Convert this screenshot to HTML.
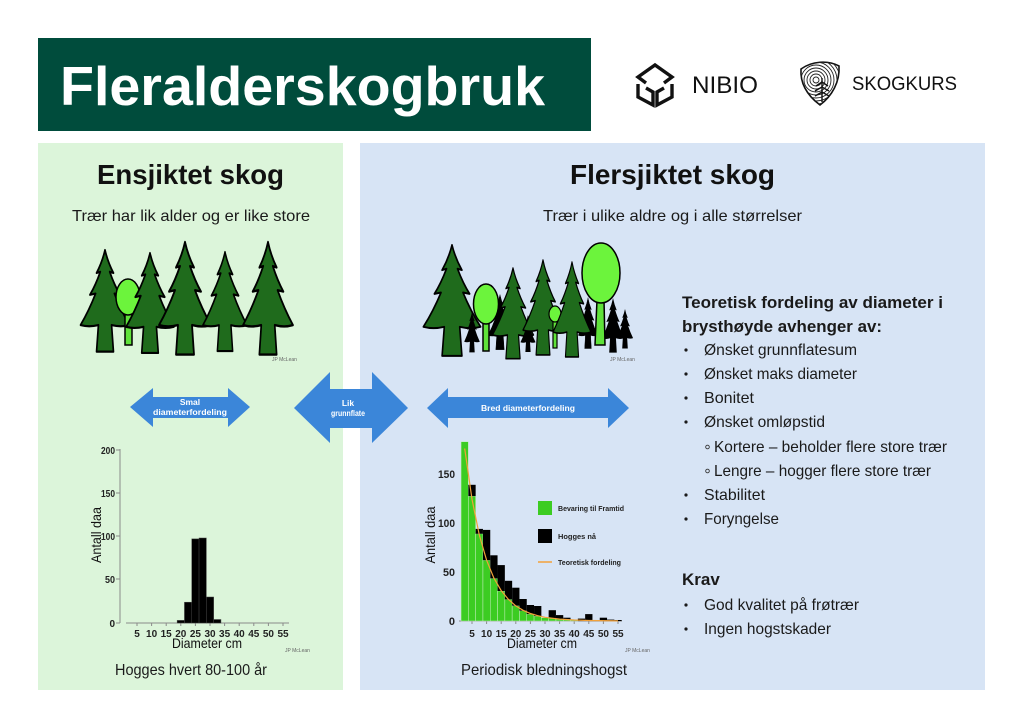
<!DOCTYPE html>
<html><head><meta charset="utf-8"><style>
html,body{margin:0;padding:0;background:#fff;width:1024px;height:727px;overflow:hidden}
svg{display:block}
</style></head><body>
<svg width="1024" height="727" viewBox="0 0 1024 727" font-family="'Liberation Sans', Arial, sans-serif">
<defs>
<path id="conifer" d="M0,0 Q3,10 9,19 L5,18 Q10,29 16,37 L10,36 Q17,50 26,62 Q17,64 7,62 L9,84 L-9,84 L-7,62 Q-17,64 -26,62 Q-17,50 -10,36 L-16,37 Q-10,29 -5,18 L-9,19 Q-3,10 0,0 Z"/>
<clipPath id="shieldclip"><path d="M801,69 C812,61 828,60 839,66 C840,82 832,96 820,105 C808,96 800,84 801,69 Z"/></clipPath>
</defs>

<!-- Title box -->
<rect x="38" y="38" width="553" height="93" fill="#004c3c"/>
<text x="60" y="105" font-size="55" font-weight="bold" fill="#fff" textLength="485" lengthAdjust="spacingAndGlyphs">Fleralderskogbruk</text>

<!-- NIBIO logo -->
<g fill="none" stroke="#111" stroke-width="3.4" stroke-linejoin="miter">
<path d="M646,83 L638,77 L655,65 L672,77 L664,83"/>
<path d="M638,84 L638,97 L653,105 L653,92 L646,88"/>
<path d="M672,84 L672,97 L657,105 L657,92 L664,88"/>
</g>
<text x="692" y="93" font-size="24" fill="#111" textLength="66" lengthAdjust="spacingAndGlyphs">NIBIO</text>

<!-- SKOGKURS logo -->
<path d="M801,69 C812,61 828,60 839,66 C840,82 832,96 820,105 C808,96 800,84 801,69 Z" fill="#fff" stroke="#111" stroke-width="1.6"/>
<g clip-path="url(#shieldclip)" fill="none" stroke="#222" stroke-width="0.9">
<circle cx="816" cy="80" r="3"/><circle cx="816" cy="80" r="6"/><circle cx="816" cy="80" r="9"/>
<circle cx="816" cy="80" r="12"/><circle cx="816" cy="80" r="15"/><circle cx="816" cy="80" r="18"/>
<circle cx="816" cy="80" r="21"/><circle cx="816" cy="80" r="24"/>
</g>
<g stroke="#111" stroke-width="1.4" fill="none">
<line x1="822" y1="78" x2="822" y2="102"/>
<path d="M816,86 L822,82 L828,86 M815,91 L822,87 L829,91 M815,96 L822,92 L829,96"/>
</g>
<text x="852" y="90" font-size="19" fill="#111" textLength="105" lengthAdjust="spacingAndGlyphs">SKOGKURS</text>

<!-- Panels -->
<rect x="38" y="143" width="305" height="547" fill="#dcf5da"/>
<rect x="360" y="143" width="625" height="547" fill="#d7e4f5"/>

<!-- Headings -->
<text x="97" y="184" font-size="28" font-weight="bold" fill="#111" textLength="187" lengthAdjust="spacingAndGlyphs">Ensjiktet skog</text>
<text x="570" y="184" font-size="28" font-weight="bold" fill="#111" textLength="205" lengthAdjust="spacingAndGlyphs">Flersjiktet skog</text>
<text x="72" y="221" font-size="16" fill="#1a1a1a" textLength="238" lengthAdjust="spacingAndGlyphs">Trær har lik alder og er like store</text>
<text x="543" y="221" font-size="16" fill="#1a1a1a" textLength="259" lengthAdjust="spacingAndGlyphs">Trær i ulike aldre og i alle størrelser</text>

<!-- Left trees -->
<g fill="#1f6b1c" stroke="#000" stroke-width="1.8" stroke-linejoin="round">
<use href="#conifer" transform="translate(105,250) scale(0.94,1.21)"/>
</g>
<g stroke="#000" stroke-width="1.5">
<rect x="125" y="310" width="7" height="35" fill="#5fe23a"/>
<ellipse cx="128" cy="297" rx="12" ry="18" fill="#6cf43c"/>
</g>
<g fill="#1f6b1c" stroke="#000" stroke-width="1.8" stroke-linejoin="round">
<use href="#conifer" transform="translate(150,253) scale(0.92,1.19)"/>
<use href="#conifer" transform="translate(185,242) scale(1.0,1.34)"/>
<use href="#conifer" transform="translate(225,252) scale(0.85,1.18)"/>
<use href="#conifer" transform="translate(268,242) scale(0.96,1.34)"/>
</g>
<text x="272" y="361" font-size="5" fill="#666">JP McLean</text>

<!-- Right trees -->
<g fill="#000" stroke="#000" stroke-width="1">
<use href="#conifer" transform="translate(500,295) scale(0.46,0.65)"/>
<use href="#conifer" transform="translate(588,298) scale(0.37,0.6)"/>
</g>
<g fill="#1f6b1c" stroke="#000" stroke-width="1.5" stroke-linejoin="round">
<use href="#conifer" transform="translate(452,245) scale(1.1,1.32)"/>
</g>
<g fill="#000"><use href="#conifer" transform="translate(472,312) scale(0.3,0.48)"/></g>
<g stroke="#000" stroke-width="1.5">
<rect x="483" y="318" width="6" height="33" fill="#5fe23a"/>
<ellipse cx="486" cy="304" rx="12.5" ry="20" fill="#6cf43c"/>
</g>
<g fill="#1f6b1c" stroke="#000" stroke-width="1.5" stroke-linejoin="round">
<use href="#conifer" transform="translate(513,268) scale(0.79,1.08)"/>
</g>
<g fill="#000"><use href="#conifer" transform="translate(528,315) scale(0.29,0.44)"/></g>
<g fill="#1f6b1c" stroke="#000" stroke-width="1.5" stroke-linejoin="round">
<use href="#conifer" transform="translate(543,260) scale(0.77,1.13)"/>
</g>
<g stroke="#000" stroke-width="1.2">
<rect x="553" y="318" width="4" height="30" fill="#5fe23a"/>
<ellipse cx="555" cy="314" rx="6" ry="8" fill="#6cf43c"/>
</g>
<g fill="#1f6b1c" stroke="#000" stroke-width="1.5" stroke-linejoin="round">
<use href="#conifer" transform="translate(572,262) scale(0.73,1.13)"/>
</g>
<g fill="#000">
<use href="#conifer" transform="translate(613,298) scale(0.42,0.65)"/>
<use href="#conifer" transform="translate(625,309) scale(0.31,0.47)"/>
</g>
<g stroke="#000" stroke-width="1.5">
<path d="M597,300 L604,300 L605,345 L595,345 Z" fill="#5fe23a"/>
<ellipse cx="601" cy="273" rx="19" ry="30" fill="#6cf43c"/>
</g>
<text x="610" y="361" font-size="5" fill="#666">JP McLean</text>

<!-- Arrows -->
<g fill="#3b86d9">
<polygon points="130,407 153,388 153,397 228,397 228,388 250,407 228,427 228,418 153,418 153,427"/>
<polygon points="294,408 330,372 330,389 372,389 372,372 408,408 372,443 372,428 330,428 330,443"/>
<polygon points="427,408 448,388 448,397 608,397 608,388 629,408 608,428 608,418 448,418 448,428"/>
</g>
<g fill="#fff" font-weight="bold" text-anchor="middle">
<text x="190" y="405" font-size="8.5">Smal</text>
<text x="190" y="415" font-size="8.5" textLength="74" lengthAdjust="spacingAndGlyphs">diameterfordeling</text>
<text x="348" y="406" font-size="8.5">Lik</text>
<text x="348" y="416" font-size="8.5" textLength="34" lengthAdjust="spacingAndGlyphs">grunnflate</text>
<text x="528" y="411" font-size="8.5" textLength="94" lengthAdjust="spacingAndGlyphs">Bred diameterfordeling</text>
</g>

<!-- Left chart -->
<g stroke="#8a8a8a" stroke-width="1">
<line x1="120" y1="449" x2="120" y2="623"/>
<line x1="116" y1="450" x2="120" y2="450"/>
<line x1="116" y1="493" x2="120" y2="493"/>
<line x1="116" y1="536" x2="120" y2="536"/>
<line x1="116" y1="579" x2="120" y2="579"/>
<line x1="116" y1="623" x2="120" y2="623"/>
<line x1="126" y1="623" x2="289" y2="623"/>
<line x1="137" y1="623" x2="137" y2="626"/><line x1="151.6" y1="623" x2="151.6" y2="626"/>
<line x1="166.2" y1="623" x2="166.2" y2="626"/><line x1="180.8" y1="623" x2="180.8" y2="626"/>
<line x1="195.4" y1="623" x2="195.4" y2="626"/><line x1="210" y1="623" x2="210" y2="626"/>
<line x1="224.6" y1="623" x2="224.6" y2="626"/><line x1="239.2" y1="623" x2="239.2" y2="626"/>
<line x1="253.8" y1="623" x2="253.8" y2="626"/><line x1="268.4" y1="623" x2="268.4" y2="626"/>
<line x1="283" y1="623" x2="283" y2="626"/>
</g>
<g font-size="10" font-weight="bold" fill="#222" text-anchor="end">
<text x="115" y="454" textLength="14" lengthAdjust="spacingAndGlyphs">200</text>
<text x="115" y="497" textLength="14" lengthAdjust="spacingAndGlyphs">150</text>
<text x="115" y="540" textLength="14" lengthAdjust="spacingAndGlyphs">100</text>
<text x="115" y="583" textLength="10" lengthAdjust="spacingAndGlyphs">50</text>
<text x="115" y="627">0</text>
</g>
<g font-size="10" font-weight="bold" fill="#222" text-anchor="middle">
<text x="137" y="637">5</text><text x="151.6" y="637">10</text><text x="166.2" y="637">15</text>
<text x="180.8" y="637">20</text><text x="195.4" y="637">25</text><text x="210" y="637">30</text>
<text x="224.6" y="637">35</text><text x="239.2" y="637">40</text><text x="253.8" y="637">45</text>
<text x="268.4" y="637">50</text><text x="283" y="637">55</text>
</g>
<g fill="#000" stroke="#444" stroke-width="0.5">
<rect x="177.15" y="620.4" width="7.3" height="2.6"/>
<rect x="184.45" y="602.2" width="7.3" height="20.8"/>
<rect x="191.75" y="538.9" width="7.3" height="84.1"/>
<rect x="199.05" y="538.0" width="7.3" height="85.0"/>
<rect x="206.35" y="597.0" width="7.3" height="26.0"/>
<rect x="213.65" y="619.5" width="7.3" height="3.5"/>
</g>
<text transform="translate(101,535) rotate(-90)" font-size="14" fill="#111" text-anchor="middle" textLength="56" lengthAdjust="spacingAndGlyphs">Antall daa</text>
<text x="172" y="648" font-size="14" fill="#111" textLength="70" lengthAdjust="spacingAndGlyphs">Diameter cm</text>
<text x="285" y="652" font-size="5" fill="#666">JP McLean</text>

<!-- Right chart -->
<g stroke="#8a8a8a" stroke-width="1">
<line x1="459" y1="621" x2="622" y2="621"/>
<line x1="472" y1="621" x2="472" y2="624"/><line x1="486.6" y1="621" x2="486.6" y2="624"/>
<line x1="501.2" y1="621" x2="501.2" y2="624"/><line x1="515.8" y1="621" x2="515.8" y2="624"/>
<line x1="530.4" y1="621" x2="530.4" y2="624"/><line x1="545" y1="621" x2="545" y2="624"/>
<line x1="559.6" y1="621" x2="559.6" y2="624"/><line x1="574.2" y1="621" x2="574.2" y2="624"/>
<line x1="588.8" y1="621" x2="588.8" y2="624"/><line x1="603.4" y1="621" x2="603.4" y2="624"/>
<line x1="618" y1="621" x2="618" y2="624"/>
</g>
<g fill="#3ccc22" stroke="#c6eec0" stroke-width="0.5">
<rect x="461.05" y="441.7" width="7.3" height="179.3"/>
<rect x="468.35" y="496.1" width="7.3" height="124.9"/>
<rect x="475.65" y="533.8" width="7.3" height="87.2"/>
<rect x="482.95" y="560.2" width="7.3" height="60.8"/>
<rect x="490.25" y="578.4" width="7.3" height="42.6"/>
<rect x="497.55" y="591.0" width="7.3" height="30.0"/>
<rect x="504.85" y="599.4" width="7.3" height="21.6"/>
<rect x="512.15" y="605.7" width="7.3" height="15.3"/>
<rect x="519.45" y="610.7" width="7.3" height="10.3"/>
<rect x="526.75" y="614.1" width="7.3" height="6.9"/>
<rect x="534.05" y="616.1" width="7.3" height="4.9"/>
<rect x="541.35" y="617.7" width="7.3" height="3.3"/>
<rect x="548.65" y="618.4" width="7.3" height="2.6"/>
<rect x="555.95" y="619.0" width="7.3" height="2.0"/>
<rect x="563.25" y="619.6" width="7.3" height="1.4"/>
<rect x="570.55" y="620.0" width="7.3" height="1.0"/>
</g>
<g fill="#000">
<rect x="468.35" y="484.8" width="7.3" height="11.3"/>
<rect x="475.65" y="528.9" width="7.3" height="4.9"/>
<rect x="482.95" y="529.9" width="7.3" height="30.3"/>
<rect x="490.25" y="555.3" width="7.3" height="23.1"/>
<rect x="497.55" y="565.1" width="7.3" height="25.9"/>
<rect x="504.85" y="580.8" width="7.3" height="18.6"/>
<rect x="512.15" y="587.7" width="7.3" height="18.0"/>
<rect x="519.45" y="599.0" width="7.3" height="11.7"/>
<rect x="526.75" y="605.0" width="7.3" height="9.1"/>
<rect x="534.05" y="606.0" width="7.3" height="10.1"/>
<rect x="548.65" y="610.2" width="7.3" height="8.2"/>
<rect x="555.95" y="615.1" width="7.3" height="3.9"/>
<rect x="563.25" y="617.7" width="7.3" height="1.9"/>
<rect x="577.85" y="618.6" width="7.3" height="2.4"/>
<rect x="585.15" y="614.1" width="7.3" height="6.9"/>
<rect x="599.75" y="617.7" width="7.3" height="3.3"/>
<rect x="607.05" y="619.6" width="7.3" height="1.4"/>
<rect x="614.35" y="620.0" width="7.3" height="1.0"/>
</g>
<polyline fill="none" stroke="#f2a13a" stroke-width="1.2" points="464.7,448.5 472,499.2 479.3,535 486.6,560.2 493.9,578.1 501.2,590.6 508.5,599.5 515.8,605.9 523.1,610.3 530.4,613.5 537.7,615.7 545,617.3 559.6,619.1 574.2,620 588.8,620.5 618,620.9"/>
<g font-size="11" font-weight="bold" fill="#222" text-anchor="end">
<text x="455" y="478" textLength="17" lengthAdjust="spacingAndGlyphs">150</text>
<text x="455" y="527" textLength="17" lengthAdjust="spacingAndGlyphs">100</text>
<text x="455" y="576" textLength="12" lengthAdjust="spacingAndGlyphs">50</text>
<text x="455" y="625">0</text>
</g>
<g font-size="10" font-weight="bold" fill="#222" text-anchor="middle">
<text x="472" y="637">5</text><text x="486.6" y="637">10</text><text x="501.2" y="637">15</text>
<text x="515.8" y="637">20</text><text x="530.4" y="637">25</text><text x="545" y="637">30</text>
<text x="559.6" y="637">35</text><text x="574.2" y="637">40</text><text x="588.8" y="637">45</text>
<text x="603.4" y="637">50</text><text x="618" y="637">55</text>
</g>
<!-- legend -->
<rect x="538" y="501" width="14" height="14" fill="#3ccc22"/>
<rect x="538" y="529" width="14" height="14" fill="#000"/>
<line x1="538" y1="562" x2="552" y2="562" stroke="#f2a13a" stroke-width="1.5"/>
<g font-size="7.5" font-weight="bold" fill="#222">
<text x="558" y="511" textLength="66" lengthAdjust="spacingAndGlyphs">Bevaring til Framtid</text>
<text x="558" y="539" textLength="38" lengthAdjust="spacingAndGlyphs">Hogges nå</text>
<text x="558" y="565" textLength="63" lengthAdjust="spacingAndGlyphs">Teoretisk fordeling</text>
</g>
<text transform="translate(435,535) rotate(-90)" font-size="14" fill="#111" text-anchor="middle" textLength="57" lengthAdjust="spacingAndGlyphs">Antall daa</text>
<text x="507" y="648" font-size="14" fill="#111" textLength="70" lengthAdjust="spacingAndGlyphs">Diameter cm</text>
<text x="625" y="652" font-size="5" fill="#666">JP McLean</text>

<!-- Captions -->
<text x="115" y="675" font-size="16" fill="#1a1a1a" textLength="152" lengthAdjust="spacingAndGlyphs">Hogges hvert 80-100 år</text>
<text x="461" y="675" font-size="16" fill="#1a1a1a" textLength="166" lengthAdjust="spacingAndGlyphs">Periodisk bledningshogst</text>

<!-- Right text block -->
<g fill="#1a1a1a">
<text x="682" y="308" font-size="17" font-weight="bold" textLength="261" lengthAdjust="spacingAndGlyphs">Teoretisk fordeling av diameter i</text>
<text x="682" y="332" font-size="17" font-weight="bold" textLength="200" lengthAdjust="spacingAndGlyphs">brysthøyde avhenger av:</text>
<g font-size="16">
<text x="704" y="355" textLength="153" lengthAdjust="spacingAndGlyphs">Ønsket grunnflatesum</text>
<text x="704" y="379" textLength="153" lengthAdjust="spacingAndGlyphs">Ønsket maks diameter</text>
<text x="704" y="403" textLength="50" lengthAdjust="spacingAndGlyphs">Bonitet</text>
<text x="704" y="427" textLength="121" lengthAdjust="spacingAndGlyphs">Ønsket omløpstid</text>
<text x="714" y="452" textLength="233" lengthAdjust="spacingAndGlyphs">Kortere – beholder flere store trær</text>
<text x="714" y="476" textLength="217" lengthAdjust="spacingAndGlyphs">Lengre – hogger flere store trær</text>
<text x="704" y="500" textLength="61" lengthAdjust="spacingAndGlyphs">Stabilitet</text>
<text x="704" y="524" textLength="75" lengthAdjust="spacingAndGlyphs">Foryngelse</text>
</g>
<text x="682" y="585" font-size="17" font-weight="bold">Krav</text>
<g font-size="16">
<text x="704" y="610" textLength="155" lengthAdjust="spacingAndGlyphs">God kvalitet på frøtrær</text>
<text x="704" y="634" textLength="127" lengthAdjust="spacingAndGlyphs">Ingen hogstskader</text>
</g>
<g>
<circle cx="686" cy="350" r="1.6"/><circle cx="686" cy="374" r="1.6"/>
<circle cx="686" cy="398" r="1.6"/><circle cx="686" cy="422" r="1.6"/>
<circle cx="686" cy="495" r="1.6"/><circle cx="686" cy="519" r="1.6"/>
<circle cx="686" cy="605" r="1.6"/><circle cx="686" cy="629" r="1.6"/>
</g>
<g fill="none" stroke="#333" stroke-width="0.9">
<circle cx="707.5" cy="447" r="1.8"/><circle cx="707.5" cy="471" r="1.8"/>
</g>
</g>
</svg>
</body></html>
